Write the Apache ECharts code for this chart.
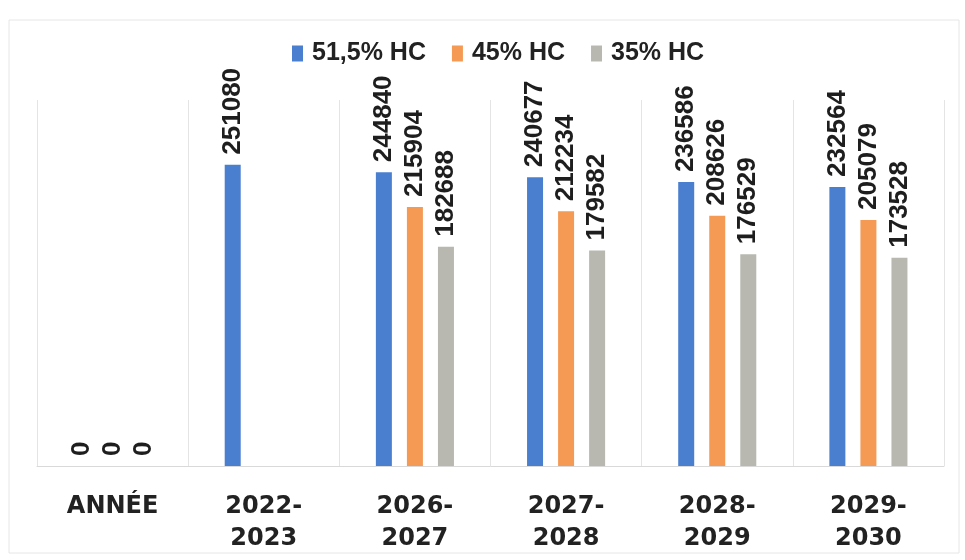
<!DOCTYPE html>
<html>
<head>
<meta charset="utf-8">
<script src="https://cdn.jsdelivr.net/npm/echarts@6/dist/echarts.min.js"></script>
<style>
html,body{margin:0;padding:0;background:#ffffff;}
#chart{width:965px;height:560px;}
</style>
</head>
<body>
<div id="chart"></div>
<script>
const categories = ["ANNÉE", "2022-\n2023", "2026-\n2027", "2027-\n2028", "2028-\n2029", "2029-\n2030"];
const seriesNames = ["51,5% HC", "45% HC", "35% HC"];
const hc515 = [0, 251080, 244840, 240677, 236586, 232564];
const hc45 = [0, null, 215904, 212234, 208626, 205079];
const hc35 = [0, null, 182688, 179582, 176529, 173528];
const colors = ["#4a7fd0", "#f59a55", "#b8b8b0"];

const chart = echarts.init(document.getElementById('chart'), null, {renderer: 'canvas'});
const labelCfg = {
  show: true,
  position: 'top',
  rotate: 90,
  align: 'left',
  verticalAlign: 'middle',
  distance: 10,
  color: '#1e1e1e',
  fontFamily: 'Liberation Sans, Arial, sans-serif',
  fontWeight: 'bold',
  fontSize: 26
};
function mk(name, data, color) {
  return {
    name: name,
    type: 'bar',
    data: data,
    barWidth: 16,
    barGap: '94%',
    itemStyle: {color: color},
    label: labelCfg
  };
}
chart.setOption({
  animation: false,
  backgroundColor: '#ffffff',
  color: colors,
  graphic: [{
    type: 'rect',
    shape: {x: 9, y: 20, width: 950, height: 533},
    style: {fill: 'none', stroke: '#e6e6e6', lineWidth: 1},
    silent: true
  }],
  legend: {
    top: 36,
    left: 287,
    itemWidth: 11,
    itemHeight: 16,
    itemGap: 26,
    icon: 'rect',
    textStyle: {
      color: '#222',
      fontFamily: 'Liberation Sans, Arial, sans-serif',
      fontWeight: 'bold',
      fontSize: 25,
      padding: [0, 0, 0, 4]
    },
    data: seriesNames
  },
  grid: {left: 37, right: 21, top: 100, bottom: 94, containLabel: false},
  xAxis: {
    type: 'category',
    data: categories,
    boundaryGap: true,
    axisTick: {show: false},
    axisLine: {show: true, lineStyle: {color: '#d9d9d9', width: 1}},
    splitLine: {show: true, lineStyle: {color: '#e4e4e4', width: 1}},
    axisLabel: {
      interval: 0,
      margin: 25,
      color: '#222',
      fontFamily: 'DejaVu Sans, sans-serif',
      fontWeight: 'bold',
      fontSize: 24,
      lineHeight: 32,
      verticalAlign: 'top'
    }
  },
  yAxis: {
    type: 'value',
    min: 0,
    max: 305000,
    show: false,
    splitLine: {show: false}
  },
  series: [
    mk(seriesNames[0], hc515, colors[0]),
    mk(seriesNames[1], hc45, colors[1]),
    mk(seriesNames[2], hc35, colors[2])
  ]
});
</script>
</body>
</html>
